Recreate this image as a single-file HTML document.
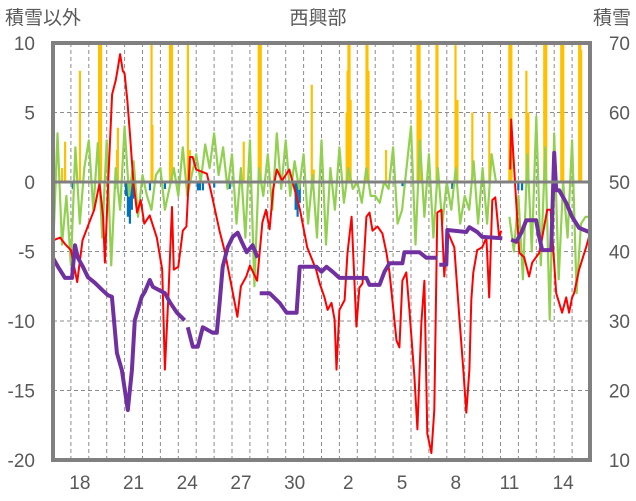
<!DOCTYPE html>
<html><head><meta charset="utf-8">
<style>
html,body{margin:0;padding:0;background:#fff;}
svg{display:block;}
text{font-family:"Liberation Sans","Noto Sans CJK JP",sans-serif;fill:#595959;}
</style></head>
<body>
<svg id="chart" width="636" height="501" viewBox="0 0 636 501" xmlns="http://www.w3.org/2000/svg">
<text x="5" y="24" font-size="19">積雪以外</text>
<text x="318" y="24" font-size="19" text-anchor="middle">西興部</text>
<text x="631" y="24" font-size="19" text-anchor="end">積雪</text>
<g id="grid"></g>
<g id="bars"></g>
<g id="lines"></g>
<g id="axes"></g>
</svg>
<script>
const leftTicks=[10,5,0,-5,-10,-15,-20];
const rightTicks=[70,60,50,40,30,20,10];
const dayLabels=["18","21","24","27","30","2","5","8","11","14"];
const dayLabelIdx=[1,4,7,10,13,16,19,22,25,28];
const numDays=30;

const redT=[0,0.4,0.7,1.0,1.35,1.65,2.0,2.3,2.6,2.8,2.9,3.1,3.3,3.5,3.6,3.75,3.9,4.0,4.15,4.3,4.5,4.7,4.9,5.1,5.4,5.8,6.1,6.25,6.45,6.65,6.75,7.0,7.25,7.45,7.65,7.8,8.0,8.6,8.9,9.3,9.6,9.9,10.3,10.5,10.8,11.0,11.4,11.7,11.9,12.1,12.3,12.5,12.8,13.2,13.8,14.2,14.7,14.9,15.17,15.34,15.56,15.73,15.84,16.0,16.29,16.45,16.68,16.73,16.95,17.12,17.29,17.51,17.68,17.85,18.13,18.4,18.63,18.8,19.19,19.35,19.52,19.74,19.91,20.19,20.36,20.58,20.75,20.91,21.14,21.3,21.47,21.7,21.86,22.03,22.25,22.42,22.7,22.92,23.09,23.26,23.37,23.48,23.7,23.98,24.21,24.37,24.54,24.71,24.93,25.04,25.3,25.54,25.6,25.93,26.05,26.32,26.6,26.77,27.16,27.33,27.61,27.8,28.11,28.44,28.67,28.83,29.0,29.11,29.39,29.78,30];
const redV=[-4.2,-4.0,-4.5,-4.9,-7.2,-4.2,-3.0,-2.0,-0.1,-2.5,-5.8,0.5,6.3,7.3,8.0,9.2,8.0,7.8,5.9,3.4,-0.2,-2.2,-1.3,-3.0,-2.4,-4.0,-6.3,-13.5,-8,-1.8,-6.3,-6.1,-3.5,-3.2,1.8,1.8,0.9,0.6,-1.1,-3.5,-5.0,-7.0,-9.7,-7.5,-6.8,-6.0,-7.1,-2.9,-2.0,-3.4,-0.5,0.9,0.1,0.9,-2.0,-4.7,-6.3,-7.3,-8.3,-9.2,-8.7,-9.9,-13.5,-9.2,-8.5,-5.1,-2.5,-4.0,-10.4,-7.6,-7.3,-2.5,-2.2,-3.5,-3.2,-3.7,-5.1,-6.5,-11.4,-11.9,-7.1,-6.5,-9.2,-14.0,-17.8,-10.1,-7.1,-18.1,-19.5,-16.4,-2.2,-2.0,-6.8,-3.5,-4.2,-4.7,-9.7,-13.5,-16.6,-13.5,-8.5,-6.5,-4.9,-4.7,-4.0,-8.3,-1.3,-1.1,-4.0,-3.5,null,0.9,4.5,-2.5,-5.1,-5.4,-6.8,-5.8,-5.1,-4.0,-2.0,-2.0,-8.0,-9.4,-8.3,-9.4,-8.3,-8.0,-6.3,-4.7,-3.7];

const snowT=[0,0.28,0.67,1.06,1.23,1.39,1.67,1.95,2.34,2.73,3.07,3.29,3.57,3.85,4.18,4.41,4.57,4.96,5.13,5.41,5.58,6.25,6.53,6.92,7.36,7.45,7.53,7.81,8.09,8.37,8.92,9.15,9.31,9.48,9.76,10.04,10.32,10.54,10.82,11.15,11.43,11.5,11.55,12.1,12.66,13.05,13.61,13.78,14.72,15.0,15.28,15.62,16.0,17.51,17.68,18.24,18.52,18.8,19.52,19.63,20.47,20.86,21.47,21.52,21.58,21.97,22.03,23.09,23.26,23.7,23.98,25.1,25.3,25.6,25.88,26.16,26.44,26.99,27.16,27.33,27.83,28.0,28.11,28.28,28.67,29.0,29.39,29.95];
const snowV=[39.1,37.8,36.2,36.2,40.9,39.1,37.8,36.3,35.5,34.5,33.7,33.5,25.4,22.9,17.2,22.9,30.1,33.5,34.2,35.9,34.9,34.0,32.7,31.2,30.1,null,29.1,26.3,26.3,29.1,28.3,28.3,32.6,37.8,40.6,42.1,42.7,41.4,39.9,40.9,39.1,null,34.0,34.0,32.6,31.2,31.2,37.8,37.8,37.1,37.8,37.1,36.2,36.2,35.2,35.2,37.1,38.3,38.3,39.9,39.9,39.1,39.1,null,38.1,38.1,43.1,42.8,43.5,42.8,42.1,41.9,null,41.7,41.4,42.7,44.5,44.5,42.1,40.2,40.2,54.2,48.8,48.8,47.0,45.0,43.4,42.8];

const greenV=[-5,3.5,-4.5,-1,-6,2.5,-3,1,3,-2,2.8,-4,3,-6,1,-2,4,-1,1.5,-2.5,0.5,-1,-2,0.5,1,-2,-0.5,1,-1,2.5,-1,0.5,2,0,2.7,1,3.5,0.5,2.5,-0.5,2,-3,1,-4,3,-7.5,1,-1,2,-2,3.5,-0.5,3,-1,1.5,-0.5,2,-3,0.5,-4,3,-4.5,1,-2,2.5,-1.5,1,-0.5,0,-1.5,1,-1,-1,-1.5,0,-0.5,2.5,-3,-2,1,4,-4.5,3,-2.5,2,-4,1,-3,0,-2,1,-3,-1,-2,1.5,-3,1,-3,2,0,null,null,-2.5,-5,-1,-7,2,-5,4.7,-6,2.5,-9.9,3.5,-7,0,-4,3,-8,-3,-2.5,-2.5];

const precipT=[0.5,0.67,1.5,2.57,2.62,2.68,3.57,3.62,5.5,5.55,6.53,6.58,6.64,7.53,7.64,10.65,11.49,11.55,11.6,14.45,14.56,16.4,16.45,16.5,16.56,16.62,17.51,17.56,17.62,18.6,20.36,20.42,20.47,20.53,21.42,21.47,22.48,22.59,23.42,24.37,25.49,25.54,25.6,26.44,26.55,27.44,27.5,27.55,28.39,28.44,28.5,29.39,29.45,29.5];
const precipV=[1.0,2.9,8,10,7,10,2.3,3.9,10,4.1,10,10,10,10,2.3,2.9,10,10,10,7,0.9,5,8,10,10,5.9,10,10,8,2.3,10,10,10,5.9,10,10,10,5.9,5,5,10,10,10,8,5,10,10,10,10,10,10,10,10,9.5];
const meltT=[1.1,3.46,4.07,4.18,4.29,4.4,4.46,5.41,6.25,8.09,8.2,8.37,9.0,9.87,13.55,13.66,13.78,14.45,19.52,22.3,25.99,26.2];
const meltV=[-0.5,-0.5,-1.0,-2.5,-3.0,-2.0,-1.2,-0.6,-0.5,-0.6,-0.6,-0.6,-0.4,-0.5,-2.0,-2.5,-1.5,-0.5,-0.3,-0.5,-0.6,-0.6];

const L=53,R=590,T=43,B=460;
const NS="http://www.w3.org/2000/svg";
function xS(d){return L+d*(R-L)/numDays;}
function yL(v){return T+(10-v)*(B-T)/30;}
function yR(v){return T+(70-v)*(B-T)/60;}
function mk(tag,attrs,parent){const e=document.createElementNS(NS,tag);for(const k in attrs)e.setAttribute(k,attrs[k]);parent.appendChild(e);return e;}
const grid=document.getElementById('grid'),bars=document.getElementById('bars'),lines=document.getElementById('lines'),axes=document.getElementById('axes');

[5,-5,-10,-15].forEach(v=>{
  const g=mk('line',{x1:L,x2:R,y1:yL(v),y2:yL(v),stroke:'#8c8c8c','stroke-width':1,'stroke-dasharray':'4,3'},grid);
  
  
});
for(let d=1;d<numDays;d++){
  const g=mk('line',{x1:xS(d),x2:xS(d),y1:T,y2:B,stroke:'#8c8c8c','stroke-width':1,'stroke-dasharray':'4,3'},grid);
  
  
}
precipT.forEach((t,i)=>{
  const y=yL(Math.min(precipV[i],10));
  const b=mk('rect',{x:xS(t)-1,y:y,width:2.2,height:yL(0)-y,fill:'#FFC000'},bars);
  
  
});
meltT.forEach((t,i)=>{
  const b=mk('rect',{x:xS(t)-1,y:yL(0),width:2.2,height:yL(meltV[i])-yL(0),fill:'#0070C0'},bars);
  
  
});
function pathFrom(ts,vs,yf){let d='',pen=false;for(let i=0;i<ts.length;i++){if(vs[i]===null){pen=false;continue;}d+=(pen?'L':'M')+xS(ts[i]).toFixed(1)+','+yf(vs[i]).toFixed(1);pen=true;}return d;}
const greenT=greenV.map((v,i)=>i*numDays/(greenV.length-1));
const gp=mk('path',{d:pathFrom(greenT,greenV,yL),fill:'none',stroke:'#92D050','stroke-width':2.2,'stroke-linejoin':'round'},lines);


const rp=mk('path',{d:pathFrom(redT,redV,yL),fill:'none',stroke:'#FF0000','stroke-width':2,'stroke-linejoin':'round'},lines);


const pp=mk('path',{d:pathFrom(snowT,snowV,yR),fill:'none',stroke:'#7030A0','stroke-width':4,'stroke-linejoin':'round'},lines);



const z=mk('line',{x1:L,x2:R,y1:yL(0),y2:yL(0),stroke:'#808080','stroke-width':3},axes);


const fr=mk('rect',{x:L,y:T,width:R-L,height:B-T,fill:'none',stroke:'#808080','stroke-width':4},axes);


leftTicks.forEach(v=>{
  const t=mk('text',{x:35,y:yL(v)+7,'font-size':19,'text-anchor':'end'},axes);t.textContent=v;
  
  
});
rightTicks.forEach(v=>{
  const t=mk('text',{x:630,y:yR(v)+7,'font-size':19,'text-anchor':'end'},axes);t.textContent=v;
  
  
});
dayLabels.forEach((s,i)=>{
  const t=mk('text',{x:xS(dayLabelIdx[i]+0.5),y:489,'font-size':19,'text-anchor':'middle'},axes);t.textContent=s;
  
  
});
</script>
</body></html>
